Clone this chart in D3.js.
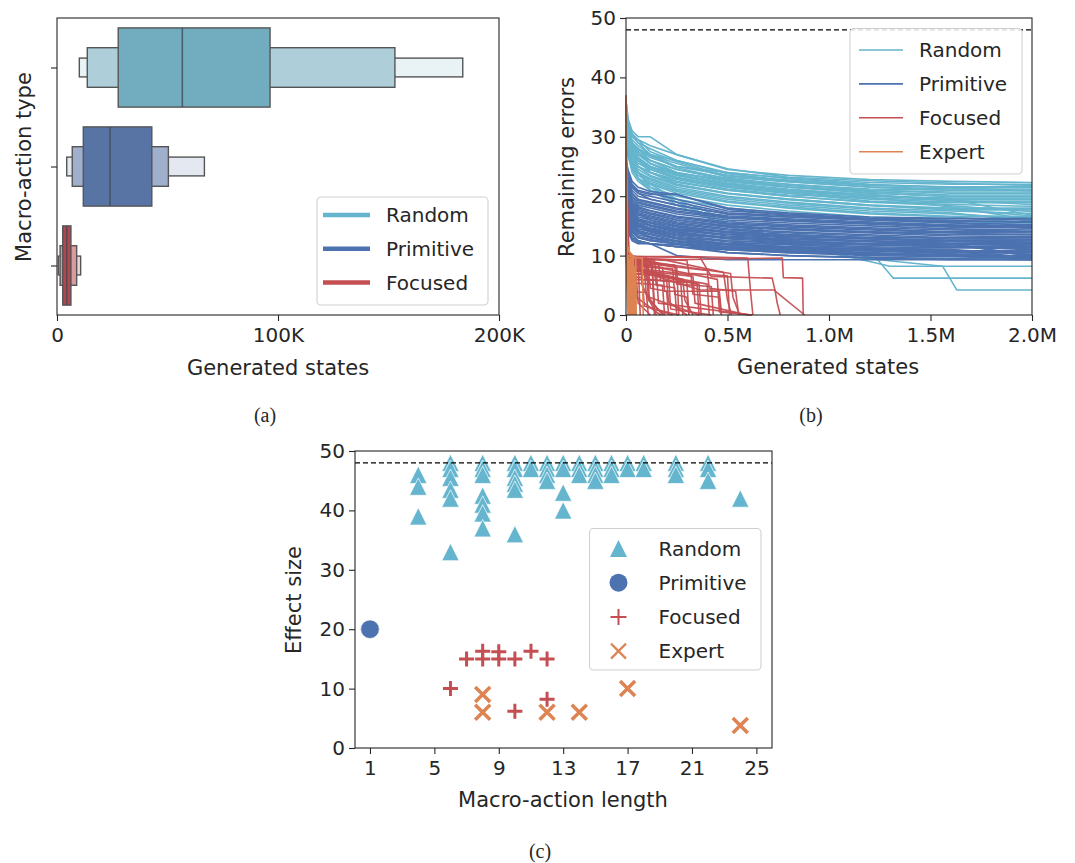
<!DOCTYPE html>
<html><head><meta charset="utf-8">
<script src="https://cdn.jsdelivr.net/npm/d3@7"></script>
<style>
body{margin:0;background:#fff}
svg{display:block}
text{font-family:"DejaVu Sans",sans-serif;fill:#262626}
</style>
</head><body>
<svg id="chart" width="1075" height="863"></svg>
<script>
// ---------------- Panel (a): boxen plot (values in thousands of generated states)
const boxCategories = ["Random", "Primitive", "Focused"];
const boxMedians    = [56.7, 24.0, 4.4];
const boxInnerLow   = [27.7, 11.9, 2.6];
const boxInnerHigh  = [96.4, 42.9, 6.3];
const boxMidLow     = [13.7, 6.9, 1.4];
const boxMidHigh    = [152.9, 50.4, 8.9];
const boxOuterLow   = [10.1, 4.4, 0.6];
const boxOuterHigh  = [183.6, 66.7, 10.7];
const boxTicks      = [0, 100, 200];

// ---------------- Panel (b): remaining errors vs generated states (x in thousands)
const checkpointsK = [0, 10, 30, 60, 120, 250, 500, 800, 1200, 1600, 2000];
const randomRuns = [
  [36, 33, 31, 30, 30, 27, 24.5, 23.5, 22.8, 22.5, 22.3],
  [35, 32, 30, 29, 27, 25, 24, 23, 22, 21.5, 21.5],
  [35, 31, 29, 28, 26.5, 25, 23.5, 22.5, 21.5, 21, 21],
  [34, 31, 29, 27, 26, 24.5, 23, 22, 21, 20.5, 20.5],
  [34, 30, 28, 27, 25.5, 24, 22.5, 21.5, 20.5, 20, 20],
  [34, 30, 28, 26, 25, 23.5, 22, 21, 20, 19.7, 19.7],
  [33, 30, 27, 26, 24.5, 23, 21.5, 20.5, 19.5, 19, 19],
  [33, 29, 27, 25, 24, 22.5, 21, 20, 19, 18.9, 18.9],
  [33, 29, 26, 25, 23.5, 22, 20.5, 19.5, 18.5, 18, 18],
  [32, 28, 26, 24, 23, 21.5, 20, 19, 18, 17.5, 17.1],
  [32, 28, 25, 24, 22.5, 21, 19.5, 18.5, 17.5, 17, 16.3],
  [32, 27, 25, 23, 22, 20.5, 19, 18, 17, 16.5, 15.5],
  [31, 27, 24.5, 23, 21.5, 20, 18.5, 17.5, 16.5, 16, 15],
  [31, 27, 24, 22.5, 21, 19.5, 18, 17, 16, 15.5, 15.5],
  [36, 32, 29, 28, 26, 24, 22.5, 21.5, 21, 20.7, 20.7],
  [35, 31, 29, 27.5, 25.5, 23.5, 22, 21, 20.3, 19.2, 19.2],
  [34, 30, 28, 26.5, 25, 23, 21.5, 20.5, 19.2, 18.6, 18.3],
  [33, 29, 27, 26, 24, 22, 20.5, 19.5, 18.5, 17.7, 17.7],
  [35, 30, 28.5, 27, 25.5, 23.8, 22.8, 22, 21.2, 21, 21],
  [34, 30, 27.5, 26, 24.8, 23.2, 21.8, 20.8, 20, 19.5, 16.8],
  [33, 30, 28, 26.5, 24, 22.8, 21.2, 20.2, 19.8, 18.2, 16],
  [36, 31, 29.5, 28.5, 27, 26, 23.8, 22.6, 21.8, 21.6, 21.6],
  [35.5, 32, 30.5, 29, 28, 26, 24, 23, 22.3, 22, 22],
  [34.5, 31, 29, 28, 27, 25.5, 23.2, 22.4, 21.6, 21.2, 21.2],
  [33.5, 30.5, 28.5, 27.5, 26, 24.5, 22.7, 21.8, 20.8, 20.2, 20.2],
  [33, 29.5, 27.5, 26.5, 25, 23.7, 22.2, 21.2, 20.2, 19.5, 19.5],
  [32.5, 29, 27, 25.5, 24.5, 23, 21.7, 20.7, 19.7, 19.3, 18.6],
  [32, 28.5, 26.5, 25, 24, 22.3, 21, 20, 19, 18.4, 17.4],
  [31.5, 28, 26, 24.5, 23.3, 21.8, 20.4, 19.4, 18.4, 17.8, 16.7],
  [31, 27.5, 25.5, 24, 22.8, 21.2, 19.8, 18.8, 17.8, 17.2, 15.8],
  [30.5, 27, 25, 23.5, 22.2, 20.8, 19.2, 18.2, 17.2, 16.6, 16.6],
  [36, 33, 30.5, 29.5, 28.5, 27, 24.6, 23.2, 22.6, 22.2, 21.8],
  [34, 31.5, 30, 29.5, 27.5, 25.8, 23.4, 22.7, 21.9, 21.4, 20.9],
  [33, 30, 28.8, 27.8, 26.8, 24.8, 22.9, 21.6, 20.6, 19.9, 19.9]
];
const randomOutliers = [
  [[0,33],[10,29],[30,26],[60,24],[120,22],[250,19.5],[500,16],[800,13],[1000,11],[1235,9.5],[1317,6.2],[2000,6.2]],
  [[0,32],[10,28],[30,25],[60,23],[120,21],[250,19],[500,15.5],[800,12.5],[1100,9.8],[1560,8.2],[1630,4.2],[2000,4.2]],
  [[0,33],[10,29],[30,26],[60,24],[120,21.5],[250,19],[500,15],[800,12],[1150,9.5],[2000,9.5]],
  [[0,32],[10,28],[30,25],[60,23],[120,21],[250,18.5],[500,15],[800,12],[1200,9],[1300,8.2],[2000,8.2]]
];
const primitiveRuns = [
  [26, 24, 22, 21, 20.5, 19.5, 17.5, 17, 16.3, 16.2, 16],
  [25, 23, 21, 20, 19.5, 18.5, 17, 16.5, 16, 15.5, 15.2],
  [25, 22, 20, 19, 18.5, 17.5, 16.5, 16, 15.5, 15, 14.8],
  [24, 22, 19.5, 18.5, 18, 17, 16, 15.5, 15, 14.5, 14.3],
  [24, 21, 19, 18, 17.5, 16.5, 15.5, 15, 14.5, 14, 14],
  [23, 21, 18.5, 17.5, 17, 16, 15, 14.5, 14, 13.5, 13.5],
  [23, 20, 18, 17, 16.5, 15.5, 14.5, 14, 13.5, 13, 12.7],
  [22, 20, 17.5, 16.5, 16, 15, 14, 13.5, 13, 12.5, 12.5],
  [22, 19, 17, 16, 15.5, 14.5, 13.5, 13, 12.5, 12, 12],
  [21, 19, 16.5, 15.5, 15, 14, 13, 12.5, 12, 11.8, 11.8],
  [21, 18, 16, 15, 14.5, 13.5, 12.5, 12, 11.5, 11.3, 11.3],
  [20, 18, 15.5, 14.5, 14, 13, 12, 11.5, 11, 10.5, 10.5],
  [20, 17, 15, 14, 13.5, 12.5, 11.5, 11, 10.5, 10, 10],
  [19, 17, 14.5, 13.5, 13, 12, 11, 10.5, 10, 9.8, 9.5],
  [19, 16, 14, 13, 12.5, 12, 10.5, 10, 9.7, 9.5, 9.3],
  [18, 15, 13.5, 12.5, 12, 11.5, 10.5, 10, 9.6, 9.3, 9.3],
  [18, 15, 13, 12.5, 12, 11.5, 11, 10.5, 10.2, 10, 9.5],
  [17, 14, 12.5, 12, 12, 11.5, 11, 11, 10.8, 10.5, 10.5],
  [24, 21, 18.5, 17, 16, 15, 14, 13.5, 13, 12, 12],
  [23, 20, 17.5, 16, 15, 14, 13, 12.5, 12, 12, 10],
  [22, 19, 16.5, 15, 14, 13, 12, 11.5, 11, 10.8, 9.3],
  [21, 18, 15.5, 14, 13, 12.5, 12, 12, 11.8, 11.5, 11],
  [25, 22.5, 20.5, 19.5, 19, 18, 16.5, 16, 15.5, 15, 15],
  [26, 23.5, 21.5, 20.5, 19.5, 18.5, 17, 16.5, 16, 15.8, 15.6],
  [20, 17, 14, 13, 12.5, 12, 11.5, 11.3, 11, 10.8, 10.8],
  [19, 16, 13.5, 12.5, 12, 10, 9.3, 9.3, 9.3, 9.3, 9.3],
  [23, 20, 17, 16, 15.5, 14.5, 14, 13.5, 13, 13, 13],
  [22, 19.5, 17, 15.5, 14.5, 13.5, 13, 12.8, 12.5, 12.3, 12.2],
  [21, 18.5, 16, 15, 14, 13, 12.5, 12.2, 12, 11.5, 11.5],
  [24, 21.5, 19, 17.5, 17, 16, 15, 14.5, 14, 13.8, 13.5],
  [25, 21, 18, 16, 15, 14.2, 13.6, 13.2, 12.8, 12.6, 12.6],
  [24, 20, 16, 14, 13, 12.4, 11.8, 11.4, 11.2, 11, 9.6],
  [25.5, 23.5, 21.5, 20.5, 20, 19, 17.2, 16.7, 16.1, 15.9, 15.7],
  [24.5, 22.5, 20.5, 19.3, 18.8, 17.8, 16.7, 16.2, 15.7, 15.2, 15],
  [23.5, 21.5, 19.5, 18.2, 17.6, 16.6, 15.7, 15.2, 14.7, 14.3, 14.1],
  [23, 21, 18.8, 17.8, 17.2, 16.3, 15.3, 14.8, 14.3, 13.9, 13.8],
  [22.5, 20.5, 18.2, 17.2, 16.7, 15.7, 14.8, 14.3, 13.8, 13.3, 13.2],
  [22, 20, 17.8, 16.8, 16.3, 15.3, 14.3, 13.8, 13.3, 12.8, 12.8],
  [21.5, 19.5, 17.2, 16.2, 15.7, 14.8, 13.8, 13.3, 12.8, 12.4, 12.3],
  [21, 19, 16.8, 15.8, 15.2, 14.3, 13.3, 12.8, 12.3, 12, 11.6],
  [20.5, 18.5, 16.2, 15.2, 14.7, 13.8, 12.8, 12.3, 11.8, 11.6, 11.1],
  [20, 18, 15.8, 14.8, 14.2, 13.3, 12.3, 11.8, 11.3, 11, 10.2],
  [19.5, 17.5, 15.2, 14.2, 13.7, 12.8, 11.8, 11.3, 10.8, 10.3, 9.8],
  [19, 16.5, 14.8, 13.8, 13.2, 12.3, 11.3, 10.8, 10.3, 10, 9.6],
  [18.5, 16, 14.2, 13.2, 12.7, 12, 11.2, 10.7, 10.4, 10.2, 9.4],
  [26, 24.5, 22.5, 21.5, 20.8, 20.3, 18, 17.2, 16.5, 16.3, 16.3],
  [25, 23, 21.8, 20.8, 20.3, 20.3, 17.8, 16.8, 16.2, 15.6, 14.6],
  [24, 22, 20, 18.8, 18.3, 17.3, 16.3, 15.8, 15.3, 14.8, 14.6],
  [17.5, 14.5, 12.8, 12.2, 12, 11.8, 11.5, 11.2, 11, 10.8, 10.6],
  [23, 19.5, 16.5, 15.2, 14.3, 13.6, 13.1, 12.7, 12.4, 12, 9.8]
];
const focusedRuns = [
  [[0,32],[8,10],[50,9.9],[365,9.8],[600,9.6],[612,4.5],[625,0]],
  [[0,30],[10,9.5],[250,9.3],[770,9.6],[775,6.3],[870,6.2],[873,0]],
  [[0,30],[12,9.5],[200,9.2],[480,7.2],[500,2.5],[520,0]],
  [[0,28],[15,9],[120,9],[130,7],[400,5.2],[410,0]],
  [[0,28],[10,8.5],[60,8.5],[70,7.5],[330,6.5],[340,2],[600,0]],
  [[0,27],[10,8.8],[180,8],[190,4],[460,4],[470,0]],
  [[0,27],[12,8.2],[230,7.8],[240,3.5],[300,3],[310,0]],
  [[0,26],[15,9.2],[90,9],[100,6],[270,5.5],[280,0]],
  [[0,26],[10,7.5],[150,7.2],[160,2],[620,0]],
  [[0,25],[10,8],[320,6.8],[330,3.5],[460,3],[470,0]],
  [[0,25],[12,9],[400,7.5],[410,4.5],[540,4],[555,0]],
  [[0,24],[10,7],[210,6.5],[220,1],[420,0]],
  [[0,24],[8,9.5],[60,9.4],[250,8],[260,0]],
  [[0,23],[10,8.6],[105,8.4],[115,3],[360,0]],
  [[0,23],[12,7.8],[360,5.2],[370,0]],
  [[0,22],[10,6.5],[80,6.3],[90,1.5],[230,0]],
  [[0,22],[8,9.8],[365,9.7],[420,6.5],[720,6.2],[735,4],[880,0]],
  [[0,21],[10,8.2],[280,6],[290,2.5],[330,0]],
  [[0,21],[12,7],[130,6.8],[140,0]],
  [[0,20],[10,5.5],[180,5],[190,0]],
  [[0,20],[10,9],[450,6],[460,0.5],[620,0]],
  [[0,20],[15,8.8],[60,8.7],[70,0]],
  [[0,19],[10,4],[100,3.8],[110,0]],
  [[0,19],[8,9.5],[515,7],[527,3],[560,0]],
  [[0,18],[10,8],[365,4.2],[734,4.2],[745,2],[760,0]],
  [[0,18],[9,6],[200,5.8],[210,2.2],[300,0]],
  [[0,17],[10,7.4],[140,7.2],[150,5],[240,4.6],[250,0]],
  [[0,17],[12,9.6],[40,9.5],[50,3],[170,0]],
  [[0,16],[10,9.7],[70,9.5],[80,5],[150,0]],
  [[0,18],[10,9.2],[160,8.8],[170,5.8],[300,5.5],[310,0]],
  [[0,19],[12,8.4],[110,8.2],[120,4.5],[200,4],[210,0]],
  [[0,20],[10,7.8],[90,7.6],[100,3.5],[180,0]],
  [[0,22],[10,9.4],[140,9.2],[150,6.6],[350,5.2],[360,0]],
  [[0,23],[8,8.9],[240,8.4],[250,5.2],[420,4.8],[430,0]],
  [[0,24],[10,9.6],[300,9.2],[310,7],[500,6.6],[510,0]],
  [[0,21],[10,6.8],[50,6.6],[60,2],[120,0]],
  [[0,20],[8,9.9],[100,9.8],[110,2.5],[190,0]],
  [[0,19],[10,8.7],[130,8.5],[140,1],[260,0]]
];
const expertRuns = [
  [[0,37],[2,22],[4,11],[10,9],[40,8],[45,0]],
  [[0,36],[2,20],[5,10],[20,8.5],[30,0]],
  [[0,35],[3,15],[6,9.5],[35,9],[40,0]],
  [[0,34],[2,18],[5,9],[15,7],[25,0]],
  [[0,33],[2,15],[4,10],[80,9.5],[85,0]],
  [[0,32],[3,12],[8,8],[20,4],[35,0]],
  [[0,31],[2,14],[5,10],[30,9.8],[33,0]],
  [[0,30],[3,10],[10,6],[45,5],[48,0]],
  [[0,29],[2,12],[6,7],[18,3],[20,0]],
  [[0,28],[2,11],[4,9],[12,6],[15,0]],
  [[0,27],[3,10],[7,8],[38,7],[42,0]],
  [[0,26],[2,9],[5,5],[10,0]],
  [[0,36],[1,25],[3,12],[25,10],[28,0]],
  [[0,35],[2,20],[5,11],[48,9.5],[50,0]],
  [[0,34],[2,16],[4,9.8],[22,9.2],[25,0]],
  [[0,33],[2,14],[5,8],[28,6.5],[32,0]],
  [[0,32],[1,20],[3,10],[16,9.5],[18,0]],
  [[0,31],[2,12],[6,9],[44,8],[46,0]],
  [[0,30],[2,10],[8,5],[38,4],[40,0]],
  [[0,29],[2,13],[5,9.5],[12,9.4],[13,0]],
  [[0,37],[1,28],[3,14],[6,10],[36,9.9],[38,0]],
  [[0,28],[2,9],[7,6],[26,5],[28,0]]
];
const totalErrors = 48;
const statesTicksK = [0, 500, 1000, 1500, 2000];
const statesTickLabels = ["0", "0.5M", "1.0M", "1.5M", "2.0M"];
const errorTicks = [0, 10, 20, 30, 40, 50];

// ---------------- Panel (c): effect size vs macro-action length
const randomLength = [4,4,4, 6,6,6,6,6,6, 8,8,8,8,8,8,8, 10,10,10,10,10,10, 11,11, 12,12,12,12, 13,13,13,13, 14,14,14, 15,15,15,15, 16,16,16, 17,17, 18,18, 20,20,20, 22,22,22, 24];
const randomEffect = [46,44,39, 48,47,45.5,43.5,42,33, 48,47,46,42.5,41,39.5,37, 48,47,45.5,44.5,43.5,36, 48,47, 48,47,46,45, 48,47,43,40, 48,47,46, 48,47,46,45, 48,47,46, 48,47, 48,47, 48,47,46, 48,47,45, 42];
const primitiveLength = [1];
const primitiveEffect = [20];
const focusedLength = [6, 7, 8, 8, 9, 9, 10, 10, 11, 12, 12];
const focusedEffect = [10, 15, 15, 16.3, 15, 16.2, 15, 6.2, 16.3, 15, 8.2];
const expertLength = [8, 8, 12, 14, 17, 24];
const expertEffect = [9, 6, 6, 6, 10, 3.8];
const lengthTicks = [1, 5, 9, 13, 17, 21, 25];

// ---------------- colours
const cRandom = "#64b5cd", cPrimitive = "#4c72b0", cFocused = "#c44e52", cExpert = "#dd8452";
const boxFills = [
  ["#72adbf", "#aecfda", "#e9f2f5"],
  ["#5874a4", "#9fafcc", "#e4e9f1"],
  ["#b2474d", "#d89b9e", "#eed3d4"]
];

const svg = d3.select("#chart");
const ink = "#262626";

function frame(g, x0, x1, y0, y1) {
  g.append("rect").attr("x", x0).attr("y", y0).attr("width", x1 - x0).attr("height", y1 - y0)
    .attr("fill", "none").attr("stroke", ink).attr("stroke-width", 1.1);
}
function styleAxis(sel, fontSize) {
  sel.select(".domain").remove();
  sel.selectAll(".tick line").attr("stroke", ink).attr("stroke-width", 1.1);
  sel.selectAll(".tick text").attr("font-size", fontSize).attr("fill", ink)
     .attr("font-family", "DejaVu Sans");
}
function legendBox(g, x, y, w, h) {
  g.append("rect").attr("x", x).attr("y", y).attr("width", w).attr("height", h)
    .attr("rx", 4).attr("fill", "#fff").attr("fill-opacity", 0.85)
    .attr("stroke", "#d0d0d0").attr("stroke-width", 1.1);
}

// ===================== Panel (a)
{
  const g = svg.append("g");
  const x = d3.scaleLinear().domain([0, 200]).range([57, 499]);
  const y = d3.scalePoint().domain(boxCategories).range([18, 315]).padding(0.5);
  const step = y.step();
  const levels = [
    {lo: boxOuterLow, hi: boxOuterHigh, h: 0.19, k: 2},
    {lo: boxMidLow, hi: boxMidHigh, h: 0.40, k: 1},
    {lo: boxInnerLow, hi: boxInnerHigh, h: 0.80, k: 0}
  ];
  boxCategories.forEach((cat, i) => {
    const cy = y(cat);
    levels.forEach(L => {
      g.append("rect")
        .attr("x", x(L.lo[i])).attr("width", x(L.hi[i]) - x(L.lo[i]))
        .attr("y", cy - L.h * step / 2).attr("height", L.h * step)
        .attr("fill", boxFills[i][L.k]).attr("stroke", "#555").attr("stroke-width", 1.4);
    });
    g.append("line").attr("x1", x(boxMedians[i])).attr("x2", x(boxMedians[i]))
      .attr("y1", cy - 0.4 * step).attr("y2", cy + 0.4 * step)
      .attr("stroke", "#3d4d57").attr("stroke-width", 1.6).attr("stroke-opacity", 0.8);
  });
  frame(g, 57, 499, 18, 315);
  const ax = g.append("g").attr("transform", "translate(0,315)")
    .call(d3.axisBottom(x).tickValues(boxTicks).tickFormat(d => d === 0 ? "0" : d + "K").tickSize(6).tickPadding(7));
  styleAxis(ax, 20);
  const ay = g.append("g").attr("transform", "translate(57,0)")
    .call(d3.axisLeft(y).tickFormat("").tickSize(6));
  styleAxis(ay, 20);
  g.append("text").attr("x", 278).attr("y", 375).attr("text-anchor", "middle").attr("font-size", 21).text("Generated states");
  g.append("text").attr("transform", "translate(31,167) rotate(-90)").attr("text-anchor", "middle").attr("font-size", 21).text("Macro-action type");
  legendBox(g, 317, 197, 171, 108);
  const legCols = [cRandom, cPrimitive, cFocused];
  boxCategories.forEach((c, i) => {
    const ly = 215 + i * 33.8;
    g.append("line").attr("x1", 323).attr("x2", 370).attr("y1", ly).attr("y2", ly)
      .attr("stroke", legCols[i]).attr("stroke-width", 4.5);
    g.append("text").attr("x", 386).attr("y", ly).attr("dy", "0.36em").attr("font-size", 20).text(c);
  });
  g.append("text").attr("x", 265).attr("y", 422).attr("text-anchor", "middle")
    .style("font-family", "Liberation Serif").attr("font-size", 20).attr("fill", "#000").text("(a)");
}

// ===================== Panel (b)
{
  const g = svg.append("g");
  const x = d3.scaleLinear().domain([0, 2000]).range([626, 1032]);
  const y = d3.scaleLinear().domain([0, 50]).range([315, 18]);
  const line = d3.line().x(d => x(d[0])).y(d => y(d[1]));
  const lg = g.append("g").attr("fill", "none").attr("stroke-width", 1.6).attr("stroke-linejoin", "round");
  const gridRun = r => r.map((v, j) => [checkpointsK[j], v]);
  randomRuns.forEach(r => lg.append("path").attr("d", line(gridRun(r))).attr("stroke", cRandom));
  randomOutliers.forEach(r => lg.append("path").attr("d", line(r)).attr("stroke", cRandom));
  primitiveRuns.forEach(r => lg.append("path").attr("d", line(gridRun(r))).attr("stroke", cPrimitive));
  focusedRuns.forEach(r => lg.append("path").attr("d", line(r)).attr("stroke", cFocused).attr("stroke-opacity", 0.95));
  expertRuns.forEach(r => lg.append("path").attr("d", line(r)).attr("stroke", cExpert));
  g.append("line").attr("x1", x(0)).attr("x2", x(2000)).attr("y1", y(totalErrors)).attr("y2", y(totalErrors))
    .attr("stroke", "#000").attr("stroke-width", 1.3).attr("stroke-dasharray", "5,3");
  frame(g, 626, 1032, 18, 315);
  const ax = g.append("g").attr("transform", "translate(0,315)")
    .call(d3.axisBottom(x).tickValues(statesTicksK).tickFormat((d, i) => statesTickLabels[i]).tickSize(6).tickPadding(7));
  styleAxis(ax, 20);
  const ay = g.append("g").attr("transform", "translate(626,0)")
    .call(d3.axisLeft(y).tickValues(errorTicks).tickSize(6).tickPadding(4));
  styleAxis(ay, 20);
  g.append("text").attr("x", 828).attr("y", 374).attr("text-anchor", "middle").attr("font-size", 21).text("Generated states");
  g.append("text").attr("transform", "translate(574,167) rotate(-90)").attr("text-anchor", "middle").attr("font-size", 21).text("Remaining errors");
  legendBox(g, 850, 28.5, 172, 145.5);
  const names = ["Random", "Primitive", "Focused", "Expert"];
  const cols = [cRandom, cPrimitive, cFocused, cExpert];
  names.forEach((n, i) => {
    const ly = 50 + i * 33.9;
    g.append("line").attr("x1", 859).attr("x2", 903).attr("y1", ly).attr("y2", ly).attr("stroke", cols[i]).attr("stroke-width", 1.6);
    g.append("text").attr("x", 919).attr("y", ly).attr("dy", "0.36em").attr("font-size", 20).text(n);
  });
  g.append("text").attr("x", 811).attr("y", 422).attr("text-anchor", "middle")
    .style("font-family", "Liberation Serif").attr("font-size", 20).attr("fill", "#000").text("(b)");
}

// ===================== Panel (c)
{
  const g = svg.append("g");
  const x = d3.scaleLinear().domain([0.07, 25.97]).range([355, 772]);
  const y = d3.scaleLinear().domain([0, 50]).range([748, 451]);
  const tri = h => `M0,${-h}L${h},${h}L${-h},${h}Z`;
  const plus = a => `M${-a},0H${a}M0,${-a}V${a}`;
  const cross = a => `M${-a},${-a}L${a},${a}M${-a},${a}L${a},${-a}`;
  const pts = g.append("g");
  randomLength.forEach((l, i) => {
    pts.append("path").attr("transform", `translate(${x(l)},${y(randomEffect[i])})`)
      .attr("d", tri(8.7)).attr("fill", cRandom).attr("stroke", "#fff").attr("stroke-width", 0.7);
  });
  primitiveLength.forEach((l, i) => {
    pts.append("circle").attr("cx", x(l)).attr("cy", y(primitiveEffect[i])).attr("r", 9.3)
      .attr("fill", cPrimitive).attr("stroke", "#fff").attr("stroke-width", 0.7);
  });
  focusedLength.forEach((l, i) => {
    pts.append("path").attr("transform", `translate(${x(l)},${y(focusedEffect[i])})`)
      .attr("d", plus(7.5)).attr("stroke", cFocused).attr("stroke-width", 3).attr("fill", "none");
  });
  expertLength.forEach((l, i) => {
    pts.append("path").attr("transform", `translate(${x(l)},${y(expertEffect[i])})`)
      .attr("d", cross(7.5)).attr("stroke", cExpert).attr("stroke-width", 3.5).attr("fill", "none");
  });
  g.append("line").attr("x1", 355).attr("x2", 772).attr("y1", y(totalErrors)).attr("y2", y(totalErrors))
    .attr("stroke", "#000").attr("stroke-width", 1.3).attr("stroke-dasharray", "5,3");
  frame(g, 355, 772, 451, 748);
  const ax = g.append("g").attr("transform", "translate(0,748)")
    .call(d3.axisBottom(x).tickValues(lengthTicks).tickSize(6).tickPadding(7));
  styleAxis(ax, 20);
  const ay = g.append("g").attr("transform", "translate(355,0)")
    .call(d3.axisLeft(y).tickValues(errorTicks).tickSize(6).tickPadding(4));
  styleAxis(ay, 20);
  g.append("text").attr("x", 563).attr("y", 807).attr("text-anchor", "middle").attr("font-size", 21).text("Macro-action length");
  g.append("text").attr("transform", "translate(301,600) rotate(-90)").attr("text-anchor", "middle").attr("font-size", 21).text("Effect size");
  legendBox(g, 589.5, 528.5, 171.5, 141.5);
  const names = ["Random", "Primitive", "Focused", "Expert"];
  names.forEach((n, i) => {
    const ly = 548.5 + i * 34.2;
    const m = g.append("g").attr("transform", `translate(618.5,${ly})`);
    if (i === 0) m.append("path").attr("d", tri(8.5)).attr("fill", cRandom);
    if (i === 1) m.append("circle").attr("r", 9).attr("fill", cPrimitive);
    if (i === 2) m.append("path").attr("d", plus(8)).attr("stroke", cFocused).attr("stroke-width", 2);
    if (i === 3) m.append("path").attr("d", cross(7.5)).attr("stroke", cExpert).attr("stroke-width", 2.2);
    g.append("text").attr("x", 658.5).attr("y", ly).attr("dy", "0.36em").attr("font-size", 20).text(n);
  });
  g.append("text").attr("x", 540).attr("y", 858).attr("text-anchor", "middle")
    .style("font-family", "Liberation Serif").attr("font-size", 20).attr("fill", "#000").text("(c)");
}
</script>
</body></html>
